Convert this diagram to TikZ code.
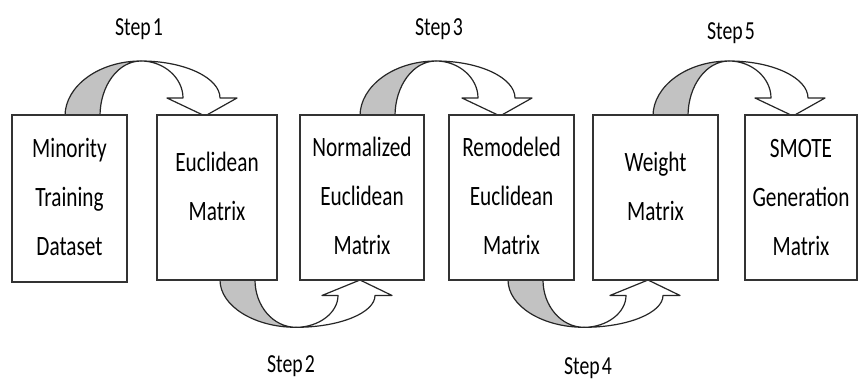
\documentclass[tikz,border=0pt]{standalone}
\usepackage{fontspec}
\setmainfont{Carlito}[FakeStretch=0.76]
\newfontfamily\stepfont{Carlito}[FakeStretch=0.76, WordSpace=0.5]
\begin{document}
\begin{tikzpicture}[x=0.75pt,y=-0.75pt,
  box/.style={draw=black!80, line width=1.4pt, fill=white, inner sep=0pt},
  boxtext/.style={align=center, inner sep=0pt, anchor=base, text=black,
    font=\fontsize{21}{36.5}\selectfont},
  steplabel/.style={inner sep=0pt, anchor=base, text=black,
    font=\stepfont\fontsize{19.5}{20}\selectfont},
  arrowline/.style={draw=black!85, line width=0.9pt, line join=round},
  bentarrow/.pic={
    \path[arrowline, fill=black!24] (0,0) .. controls (0,30) and (34,55) .. (76,55)
      .. controls (53,55) and (35,30) .. (35,0);
    \path[arrowline, fill=white] (76,55) .. controls (120,55) and (155,38) .. (155,18)
      -- (172,18) -- (140,0) -- (102,18) -- (118,18)
      .. controls (118,38) and (99,55) .. (76,55) -- cycle;
  }]
\useasboundingbox[fill=white] (0,0) rectangle (859,381);

% curved block arrows
\pic[yscale=-1] at (65,116) {bentarrow};
\pic[yscale=-1] at (360,116) {bentarrow};
\pic[yscale=-1] at (653,116) {bentarrow};
\pic[yscale=0.86] at (220,280) {bentarrow};
\pic[yscale=0.86] at (508,280) {bentarrow};

% boxes
\node[box, minimum width=86.25pt, minimum height=125.25pt] (b1) at (69.5,198.5) {};
\node[box, minimum width=90pt, minimum height=123.75pt] (b2) at (217,197.5) {};
\node[box, minimum width=93pt, minimum height=123.75pt] (b3) at (362,197.5) {};
\node[box, minimum width=93.75pt, minimum height=123.75pt] (b4) at (511.5,197.5) {};
\node[box, minimum width=93.75pt, minimum height=123.75pt] (b5) at (655.5,197.5) {};
\node[box, minimum width=84pt, minimum height=123.75pt] (b6) at (801,197.5) {};

% box texts (anchor = baseline of the last line)
\node[boxtext] (t1) at (69.5,255) {Minority\\Training\\Dataset};
\node[boxtext] (t2) at (217,220) {Euclidean\\Matrix};
\node[boxtext] (t3) at (362,254) {Normalized\\Euclidean\\Matrix};
\node[boxtext] (t4) at (511.5,254) {Remodeled\\Euclidean\\Matrix};
\node[boxtext] (t5) at (655.5,220) {Weight\\Matrix};
\node[boxtext] (t6) at (801,255) {SMOTE\\Generation\\Matrix};

% step labels
\node[steplabel] (s1) at (139,36) {Step 1};
\node[steplabel] (s3) at (439,36) {Step 3};
\node[steplabel] (s5) at (731,40) {Step 5};
\node[steplabel] (s2) at (291,372) {Step 2};
\node[steplabel] (s4) at (588,374) {Step 4};
\end{tikzpicture}
\end{document}
